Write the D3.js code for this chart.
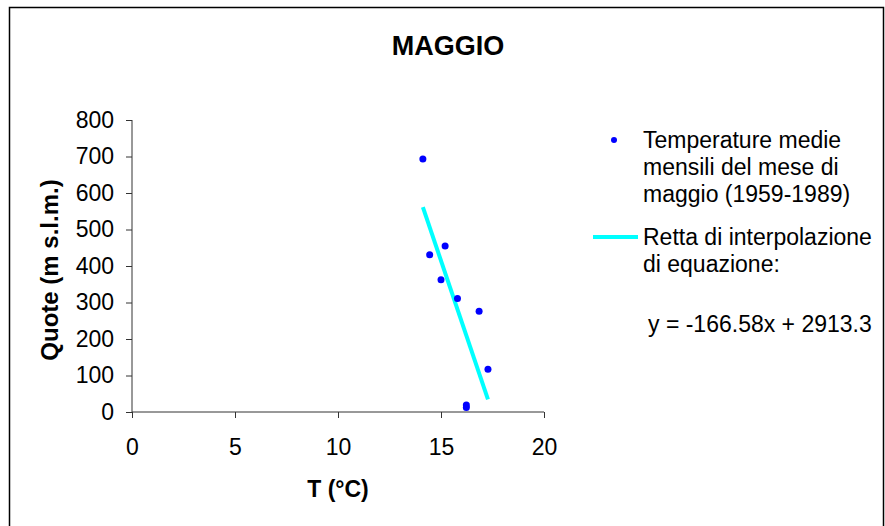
<!DOCTYPE html>
<html>
<head>
<meta charset="utf-8">
<script src="https://cdn.jsdelivr.net/npm/d3@7"></script>
<style>
body { margin: 0; background: #fff; }
text { font-family: "Liberation Sans", Arial, sans-serif; fill: #000; }
</style>
</head>
<body>
<svg id="chart" width="885" height="526"></svg>
<script>
// mean May temperatures (°C) and station heights (m a.s.l.)
var temps = [14.12, 15.2, 14.45, 15.0, 15.8, 16.85, 17.28, 16.23, 16.23];
var quote = [693, 455, 431, 362, 311, 276, 117, 12, 19];
var xTicks = [0, 5, 10, 15, 20];
var yTicks = [0, 100, 200, 300, 400, 500, 600, 700, 800];
var slope = -166.58, intercept = 2913.3;
var legendLabels = [
    ["Temperature medie", "mensili del mese di", "maggio (1959-1989)"],
    ["Retta di interpolazione", "di equazione:"]
];
var eqLabel = "y = -166.58x + 2913.3";

function drawChart() {
    var svg = d3.select("#chart");

    svg.append("rect")
	.attr("x", 9.5).attr("y", 7.5)
	.attr("width", 874).attr("height", 540)
	.attr("fill", "none")
	.attr("stroke", "#000")
	.attr("stroke-width", 1.5);

    var x = d3.scaleLinear().domain([0, 20]).range([132, 544]);
    var y = d3.scaleLinear().domain([0, 800]).range([412, 120]);

    svg.append("text")
	.attr("x", 448).attr("y", 55)
	.attr("text-anchor", "middle")
	.style("font-size", "27px")
	.style("font-weight", "bold")
	.text("MAGGIO");

    var xAxis = svg.append("g")
	.attr("transform", "translate(0," + y(0) + ")")
	.call(d3.axisBottom(x).tickValues(xTicks).tickSize(6).tickPadding(21));
    var yAxis = svg.append("g")
	.attr("transform", "translate(" + x(0) + ",0)")
	.call(d3.axisLeft(y).tickValues(yTicks).tickSize(6).tickPadding(12));

    [xAxis, yAxis].forEach(function(a) {
	a.select(".domain").attr("stroke", "#333");
	a.selectAll(".tick line").attr("stroke", "#333");
	a.selectAll(".tick text")
	    .style("font-family", "'Liberation Sans', Arial, sans-serif")
	    .style("font-size", "23px")
	    .attr("fill", "#000");
    });
    yAxis.select(".domain").attr("d", "M0," + y(800) + "V" + y(0));
    xAxis.select(".domain").attr("d", "M0,0H" + (x(20) - x(0)))
	.attr("transform", "translate(" + x(0) + ",0)");

    svg.append("text")
	.attr("x", 338).attr("y", 497)
	.attr("text-anchor", "middle")
	.style("font-size", "23px")
	.style("font-weight", "bold")
	.text("T (°C)");

    svg.append("text")
	.attr("transform", "translate(58,270) rotate(-90)")
	.attr("text-anchor", "middle")
	.style("font-size", "24px")
	.style("font-weight", "bold")
	.text("Quote (m s.l.m.)");

    // trend line over the data range
    var ext = d3.extent(temps);
    var line = d3.line().x(d => x(d)).y(d => y(slope * d + intercept));
    svg.append("path")
	.attr("d", line(ext))
	.attr("fill", "none")
	.attr("stroke", "#00ffff")
	.attr("stroke-width", 4);

    svg.selectAll(".pt")
	.data(d3.range(temps.length))
	.enter().append("circle")
	.attr("class", "pt")
	.attr("cx", i => x(temps[i]))
	.attr("cy", i => y(quote[i]))
	.attr("r", 3.5)
	.attr("fill", "#0000ff");

    // legend
    var leg = svg.append("g");
    leg.append("circle")
	.attr("cx", 614).attr("cy", 140).attr("r", 3)
	.attr("fill", "#0000ff");
    leg.append("line")
	.attr("x1", 593).attr("x2", 638)
	.attr("y1", 237).attr("y2", 237)
	.attr("stroke", "#00ffff").attr("stroke-width", 4);
    var starts = [140, 237];
    legendLabels.forEach(function(lines, k) {
	leg.selectAll(null)
	    .data(lines)
	    .enter().append("text")
	    .attr("x", 643)
	    .attr("y", (d, i) => starts[k] + i * 27)
	    .attr("dy", "0.35em")
	    .style("font-size", "23px")
	    .text(d => d);
    });
    leg.append("text")
	.attr("x", 648).attr("y", 324)
	.attr("dy", "0.35em")
	.style("font-size", "23px")
	.text(eqLabel);
}

drawChart();
</script>
</body>
</html>
